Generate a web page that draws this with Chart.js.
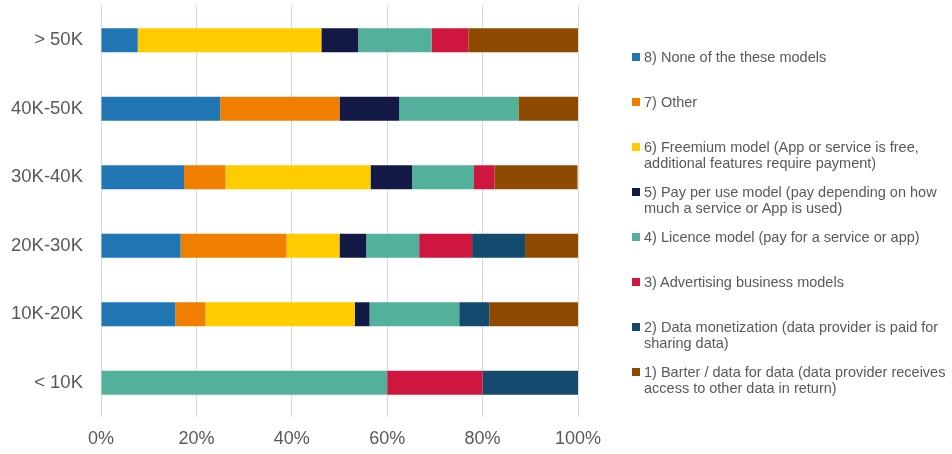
<!DOCTYPE html>
<html>
<head>
<meta charset="utf-8">
<script src="https://cdn.jsdelivr.net/npm/chart.js@4"></script>
<style>
  body { margin: 0; background: #fff; }
  #wrap { position: relative; width: 952px; height: 454px; }
  #legend { position: absolute; left: 632px; top: 49px; font: 14.5px "Liberation Sans", Arial, sans-serif; color: #595959; }
  .item { position: relative; height: 45px; padding-left: 12px; line-height: 16px; white-space: nowrap; }
  .box { position: absolute; left: 0; top: 4px; width: 8px; height: 8px; }
</style>
</head>
<body>
<div id="wrap">
  <canvas id="myChart" width="952" height="454"></canvas>
  <div id="legend"></div>
</div>
<script>
const incomeGroups = ["> 50K", "40K-50K", "30K-40K", "20K-30K", "10K-20K", "< 10K"];

// shares in %, one value per income group (top to bottom)
const noneOfThese   = [7.7, 25.0, 17.4, 16.7, 15.6, 0];
const other         = [0, 25.0, 8.7, 22.2, 6.3, 0];
const freemium      = [38.5, 0, 30.4, 11.1, 31.3, 0];
const payPerUse     = [7.7, 12.5, 8.7, 5.6, 3.1, 0];
const licence       = [15.4, 25.0, 13.0, 11.1, 18.8, 60.0];
const advertising   = [7.7, 0, 4.3, 11.1, 0, 20.0];
const dataMonetize  = [0, 0, 0, 11.1, 6.3, 20.0];
const barter        = [23.1, 12.5, 17.4, 11.1, 18.8, 0];

const tickLabels = ["0%", "20%", "40%", "60%", "80%", "100%"];

const series = [
  { label: "8) None of the these models", data: noneOfThese, color: "#2077B4" },
  { label: "7) Other", data: other, color: "#F07F00" },
  { label: "6) Freemium model (App or service is free,|additional features require payment)", data: freemium, color: "#FFCC00" },
  { label: "5) Pay per use model (pay depending on how|much a service or App is used)", data: payPerUse, color: "#121945" },
  { label: "4) Licence model (pay for a service or app)", data: licence, color: "#53B09A" },
  { label: "3) Advertising business models", data: advertising, color: "#CE163F" },
  { label: "2) Data monetization (data provider is paid for|sharing data)", data: dataMonetize, color: "#144A6E" },
  { label: "1) Barter / data for data (data provider receives|access to other data in return)", data: barter, color: "#8E4B00" },
];

const ctx = document.getElementById("myChart");

new Chart(ctx, {
  type: "bar",
  data: {
    labels: incomeGroups,
    datasets: series.map((s) => ({
      label: s.label.replace("|", " "),
      data: s.data,
      backgroundColor: s.color,
      borderWidth: 0,
      barPercentage: 0.7,
      categoryPercentage: 0.5,
    })),
  },
  options: {
    indexAxis: "y",
    responsive: false,
    animation: false,
    layout: {
      padding: { top: 6, right: 374, bottom: 4, left: 0 },
    },
    plugins: {
      legend: { display: false },
      tooltip: { enabled: false },
    },
    scales: {
      x: {
        stacked: true,
        min: 0,
        max: 100,
        border: { display: false },
        grid: { color: "#d9d9d9", lineWidth: 1, drawTicks: false },
        ticks: {
          stepSize: 20,
          padding: 11,
          color: "#595959",
          font: { family: "Liberation Sans", size: 18 },
          callback: (v, i) => tickLabels[i],
        },
        afterFit: (scale) => {
          scale.height = 33;
        },
      },
      y: {
        stacked: true,
        border: { display: false },
        grid: { display: false, drawTicks: false },
        ticks: {
          padding: 18,
          color: "#595959",
          font: { family: "Liberation Sans", size: 18.5 },
        },
        afterFit: (scale) => {
          scale.width = 101;
          scale.paddingTop = 0;
          scale.paddingBottom = 0;
        },
      },
    },
  },
});

// legend drawn as html so the long labels can wrap like the original
const legend = document.getElementById("legend");
series.forEach((s) => {
  const item = document.createElement("div");
  item.className = "item";
  const box = document.createElement("span");
  box.className = "box";
  box.style.background = s.color;
  item.appendChild(box);
  s.label.split("|").forEach((line, i) => {
    if (i > 0) item.appendChild(document.createElement("br"));
    item.appendChild(document.createTextNode(line));
  });
  legend.appendChild(item);
});
</script>
</body>
</html>
